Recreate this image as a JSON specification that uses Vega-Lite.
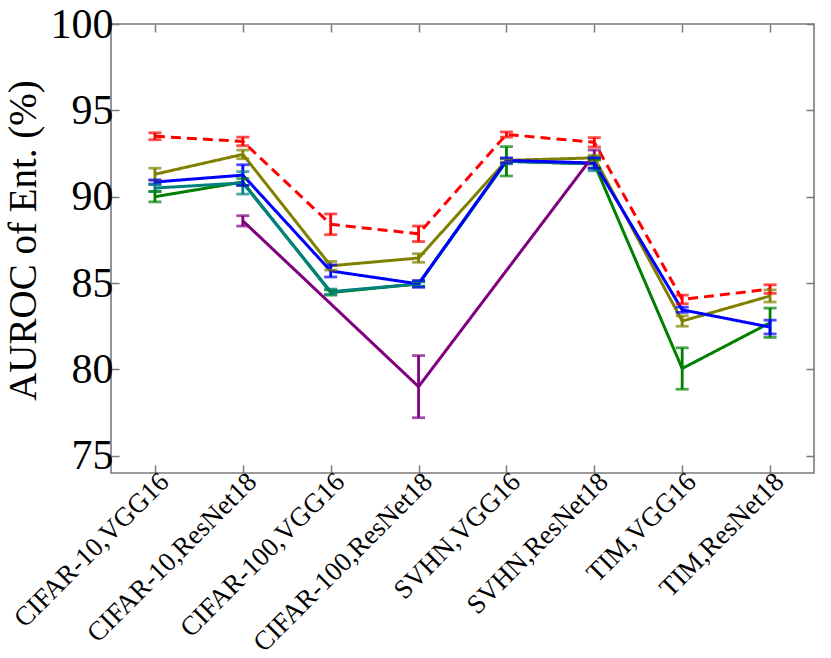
{
  "$schema": "https://vega.github.io/schema/vega-lite/v6.json",
  "width": 703,
  "height": 449,
  "autosize": {"type": "none"},
  "padding": {"left": 111, "top": 24, "right": 17, "bottom": 185},
  "background": "white",
  "config": {
    "view": {"stroke": "#7a7a7a", "strokeWidth": 1.6},
    "axis": {"grid": false, "domain": false, "tickColor": "#7a7a7a", "tickWidth": 1.5, "labelColor": "black", "labelFont": "Liberation Serif", "titleFont": "Liberation Serif", "titleColor": "black", "titleFontWeight": "normal", "labelLimit": 600}
  },
  "data": {"values": [
    {"series": "s1", "cond": "CIFAR-10,VGG16", "v": 90.0, "lo": 89.7, "hi": 90.3},
    {"series": "s1", "cond": "CIFAR-10,ResNet18", "v": 90.85, "lo": 90.65, "hi": 91.05},
    {"series": "s1", "cond": "CIFAR-100,VGG16", "v": 84.45, "lo": 84.3, "hi": 84.6},
    {"series": "s1", "cond": "CIFAR-100,ResNet18", "v": 84.95, "lo": 84.8, "hi": 85.1},
    {"series": "s1", "cond": "SVHN,VGG16", "v": 92.05, "lo": 91.2, "hi": 92.9},
    {"series": "s1", "cond": "SVHN,ResNet18", "v": 91.9, "lo": 91.65, "hi": 92.15},
    {"series": "s1", "cond": "TIM,VGG16", "v": 80.05, "lo": 78.85, "hi": 81.25},
    {"series": "s1", "cond": "TIM,ResNet18", "v": 82.7, "lo": 81.85, "hi": 83.55},
    {"series": "s2", "cond": "CIFAR-10,VGG16", "v": 90.5, "lo": 90.3, "hi": 90.7},
    {"series": "s2", "cond": "CIFAR-10,ResNet18", "v": 90.8, "lo": 90.15, "hi": 91.45},
    {"series": "s2", "cond": "CIFAR-100,VGG16", "v": 84.5, "lo": 84.35, "hi": 84.65},
    {"series": "s2", "cond": "CIFAR-100,ResNet18", "v": 84.95, "lo": 84.83, "hi": 85.07},
    {"series": "s2", "cond": "SVHN,VGG16", "v": 92.05, "lo": 91.9, "hi": 92.2},
    {"series": "s2", "cond": "SVHN,ResNet18", "v": 91.9, "lo": 91.5, "hi": 92.3},
    {"series": "s3", "cond": "CIFAR-10,VGG16", "v": 91.3, "lo": 90.95, "hi": 91.65},
    {"series": "s3", "cond": "CIFAR-10,ResNet18", "v": 92.45, "lo": 92.2, "hi": 92.7},
    {"series": "s3", "cond": "CIFAR-100,VGG16", "v": 86.0, "lo": 85.75, "hi": 86.25},
    {"series": "s3", "cond": "CIFAR-100,ResNet18", "v": 86.45, "lo": 86.2, "hi": 86.7},
    {"series": "s3", "cond": "SVHN,VGG16", "v": 92.1, "lo": 92.0, "hi": 92.2},
    {"series": "s3", "cond": "SVHN,ResNet18", "v": 92.25, "lo": 92.1, "hi": 92.4},
    {"series": "s3", "cond": "TIM,VGG16", "v": 82.8, "lo": 82.5, "hi": 83.1},
    {"series": "s3", "cond": "TIM,ResNet18", "v": 84.25, "lo": 83.9, "hi": 84.6},
    {"series": "s4", "cond": "CIFAR-10,VGG16", "v": 90.85, "lo": 90.73, "hi": 90.97},
    {"series": "s4", "cond": "CIFAR-10,ResNet18", "v": 91.25, "lo": 90.65, "hi": 91.85},
    {"series": "s4", "cond": "CIFAR-100,VGG16", "v": 85.7, "lo": 85.35, "hi": 86.05},
    {"series": "s4", "cond": "CIFAR-100,ResNet18", "v": 84.95, "lo": 84.75, "hi": 85.15},
    {"series": "s4", "cond": "SVHN,VGG16", "v": 92.1, "lo": 91.95, "hi": 92.25},
    {"series": "s4", "cond": "SVHN,ResNet18", "v": 91.95, "lo": 91.65, "hi": 92.25},
    {"series": "s4", "cond": "TIM,VGG16", "v": 83.45, "lo": 83.3, "hi": 83.6},
    {"series": "s4", "cond": "TIM,ResNet18", "v": 82.45, "lo": 82.05, "hi": 82.85},
    {"series": "s5", "cond": "CIFAR-10,ResNet18", "v": 88.6, "lo": 88.3, "hi": 88.9},
    {"series": "s5", "cond": "CIFAR-100,ResNet18", "v": 79.0, "lo": 77.2, "hi": 80.8},
    {"series": "s5", "cond": "SVHN,ResNet18", "v": 92.45, "lo": 92.2, "hi": 92.7},
    {"series": "s6", "cond": "CIFAR-10,VGG16", "v": 93.5, "lo": 93.3, "hi": 93.7},
    {"series": "s6", "cond": "CIFAR-10,ResNet18", "v": 93.2, "lo": 92.95, "hi": 93.45},
    {"series": "s6", "cond": "CIFAR-100,VGG16", "v": 88.4, "lo": 87.8, "hi": 89.0},
    {"series": "s6", "cond": "CIFAR-100,ResNet18", "v": 87.85, "lo": 87.4, "hi": 88.3},
    {"series": "s6", "cond": "SVHN,VGG16", "v": 93.6, "lo": 93.45, "hi": 93.75},
    {"series": "s6", "cond": "SVHN,ResNet18", "v": 93.15, "lo": 92.88, "hi": 93.42},
    {"series": "s6", "cond": "TIM,VGG16", "v": 84.05, "lo": 83.8, "hi": 84.3},
    {"series": "s6", "cond": "TIM,ResNet18", "v": 84.65, "lo": 84.4, "hi": 84.9}
  ]},
  "encoding": {
    "x": {"field": "cond", "type": "nominal", "sort": ["CIFAR-10,VGG16", "CIFAR-10,ResNet18", "CIFAR-100,VGG16", "CIFAR-100,ResNet18", "SVHN,VGG16", "SVHN,ResNet18", "TIM,VGG16", "TIM,ResNet18"], "scale": {"type": "point", "padding": 0.5}},
    "color": {"field": "series", "type": "nominal", "legend": null, "scale": {"domain": ["s1", "s2", "s3", "s4", "s5", "s6"], "range": ["#008000", "#008080", "#808000", "#0000ff", "#800080", "#ff0000"]}}
  },
  "layer": [
    {
      "mark": {"type": "line", "strokeWidth": 3},
      "encoding": {
        "x": {"field": "cond", "type": "nominal", "sort": ["CIFAR-10,VGG16", "CIFAR-10,ResNet18", "CIFAR-100,VGG16", "CIFAR-100,ResNet18", "SVHN,VGG16", "SVHN,ResNet18", "TIM,VGG16", "TIM,ResNet18"], "scale": {"type": "point", "padding": 0.5},
          "axis": {"orient": "bottom", "title": null, "labelAngle": -45, "labelFontSize": 27, "tickSize": -8, "labelPadding": 3}},
        "y": {"field": "v", "type": "quantitative", "scale": {"domain": [74, 100], "nice": false, "zero": false},
          "axis": {"orient": "left", "title": "AUROC of Ent. (%)", "values": [75, 80, 85, 90, 95, 100], "labelFontSize": 42, "tickSize": -8, "labelPadding": 6, "titleFontSize": 39, "titleAngle": -90, "titleX": -76, "titleY": 216, "titleBaseline": "alphabetic", "titleAlign": "center"}},
        "strokeDash": {"field": "series", "type": "nominal", "legend": null, "scale": {"domain": ["s1", "s2", "s3", "s4", "s5", "s6"], "range": [[1, 0], [1, 0], [1, 0], [1, 0], [1, 0], [10, 6]]}}
      }
    },
    {
      "mark": {"type": "rule", "strokeWidth": 2.8},
      "encoding": {
        "y": {"field": "lo", "type": "quantitative", "axis": {"orient": "right", "labels": false, "title": null, "values": [75, 80, 85, 90, 95, 100], "tickSize": -8}},
        "y2": {"field": "hi"},
        "x": {"field": "cond", "type": "nominal", "sort": ["CIFAR-10,VGG16", "CIFAR-10,ResNet18", "CIFAR-100,VGG16", "CIFAR-100,ResNet18", "SVHN,VGG16", "SVHN,ResNet18", "TIM,VGG16", "TIM,ResNet18"], "axis": {"orient": "top", "labels": false, "title": null, "tickSize": -8}}
      }
    },
    {
      "mark": {"type": "tick", "orient": "horizontal", "size": 13, "thickness": 2.8},
      "encoding": {"y": {"field": "lo", "type": "quantitative", "axis": null}, "x": {"field": "cond", "type": "nominal", "sort": ["CIFAR-10,VGG16", "CIFAR-10,ResNet18", "CIFAR-100,VGG16", "CIFAR-100,ResNet18", "SVHN,VGG16", "SVHN,ResNet18", "TIM,VGG16", "TIM,ResNet18"], "axis": null}}
    },
    {
      "mark": {"type": "tick", "orient": "horizontal", "size": 13, "thickness": 2.8},
      "encoding": {"y": {"field": "hi", "type": "quantitative", "axis": null}, "x": {"field": "cond", "type": "nominal", "sort": ["CIFAR-10,VGG16", "CIFAR-10,ResNet18", "CIFAR-100,VGG16", "CIFAR-100,ResNet18", "SVHN,VGG16", "SVHN,ResNet18", "TIM,VGG16", "TIM,ResNet18"], "axis": null}}
    }
  ],
  "resolve": {"axis": {"x": "independent", "y": "independent"}}
}
